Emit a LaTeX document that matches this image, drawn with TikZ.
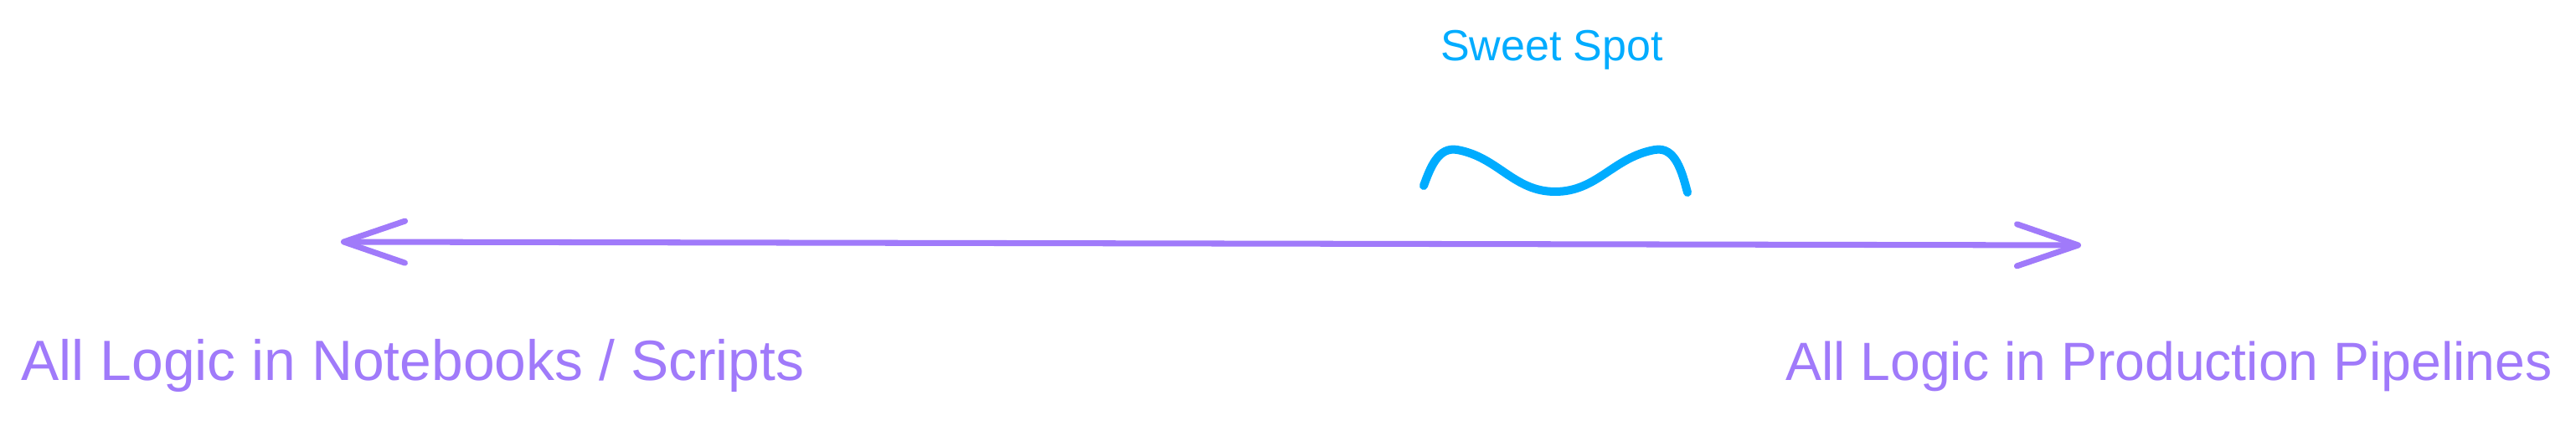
\documentclass[tikz,border=0pt]{standalone}
\usepackage{fontspec}
\setmainfont{Liberation Sans}
\usepackage{xcolor}
\usetikzlibrary{arrows.meta}

\begin{document}
\begin{tikzpicture}[
		end label/.style={inner sep=0pt, anchor=base, text=VIOLET, font=\fontsize{#1}{22}\selectfont},
		spot label/.style={inner sep=0pt, anchor=base, text=SKY, font=\fontsize{14.8}{18}\selectfont},
		scale line/.style={line width=2pt, color=VIOLET, line cap=round, line join=round,
			{Straight Barb[length=7.3mm, width=5mm, round]}-{Straight Barb[length=7.3mm, width=5mm, round]}},
		spot curve/.style={line width=2.85pt, color=SKY, line cap=round, line join=round}
	]
				\definecolor{VIOLET}{RGB}{160, 122, 250}
				\definecolor{SKY}{RGB}{0, 172, 255}
				\useasboundingbox (0,0) rectangle (30.76,5.09);

				% the scale
				\coordinate (notebooks end) at (4.07, 2.20);
				\coordinate (pipelines end) at (24.85, 2.16);
				\draw[scale line] (notebooks end) -- (pipelines end);

				% its two ends
				\node[end label=19.3] (notebooks) at (4.93, 0.54) {All Logic in Notebooks / Scripts};
				\node[end label=18.3] (pipelines) at (25.90, 0.54) {All Logic in Production Pipelines};

				% sweet spot
				\node[spot label] (sweet spot) at (18.53, 4.36) {Sweet Spot};
				\draw[spot curve] (17.00, 2.87) to[out=70, in=170] (17.40, 3.30) to[out=-10, in=180] (18.57, 2.80)
					to[out=0, in=190] (19.76, 3.30) to[out=10, in=105] (20.15, 2.79);
			\end{tikzpicture}
\end{document}
